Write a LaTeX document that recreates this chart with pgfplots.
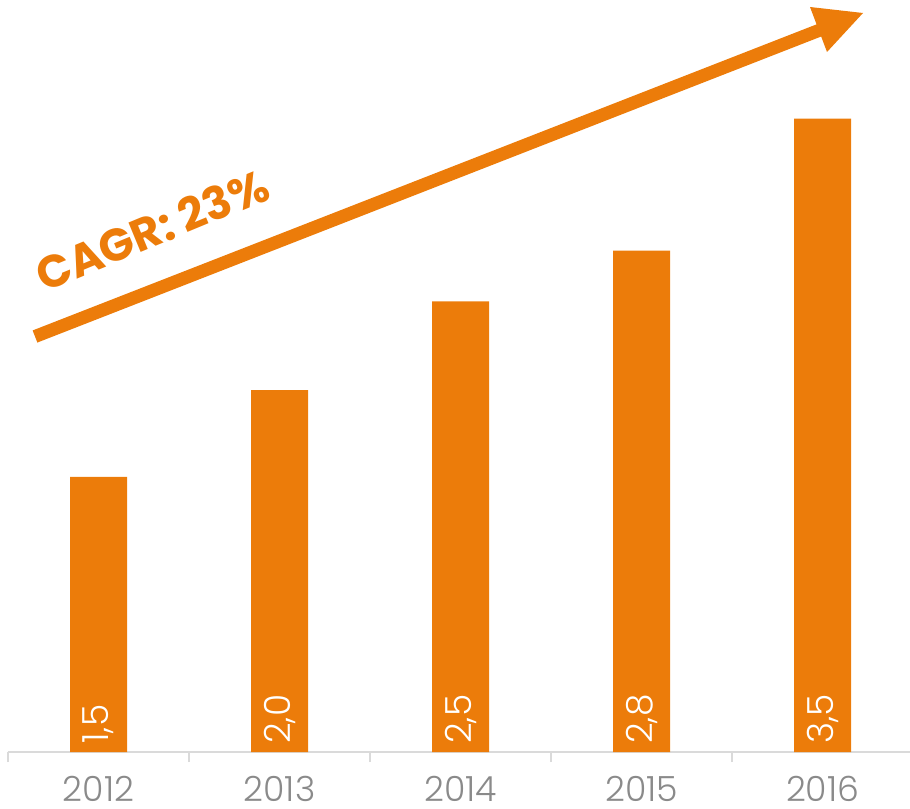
\documentclass[border=0pt]{standalone}
\usepackage{fontspec}
\usepackage{pgfplots}
\pgfplotsset{compat=1.18}
\setmainfont{Poppins}
\newfontfamily\lightfont{Poppins}[UprightFont=* Light]
\definecolor{barorange}{HTML}{EC7C0A}
\definecolor{labgray}{HTML}{8A8A8A}
\definecolor{axgray}{HTML}{DADADA}
\begin{document}
\begin{tikzpicture}
\begin{axis}[
  at={(6pt,42pt)}, anchor=south west,
  width=676.5pt, height=564pt, scale only axis,
  xmin=-0.5, xmax=4.483, ymin=0, ymax=4.155,
  axis y line=none, axis x line*=bottom,
  axis line style={draw=axgray, line width=1.5pt, -},
  xtick={0,1,2,3,4},
  xticklabels={2012,2013,2014,2015,2016},
  major tick length=0pt,
  minor xtick={-0.5,0.5,1.5,2.5,3.5},
  minor tick length=7.5pt,
  tick align=outside,
  minor tick style={draw=axgray, line width=1.5pt},
  xticklabel style={font=\lightfont\fontsize{26}{30}\selectfont, text=labgray, inner sep=0pt, anchor=north, yshift=-18pt},
  /pgf/number format/assume math mode=true,
  clip=false,
]
\addplot[ybar, bar width=42.75pt, bar shift=0pt, fill=barorange, draw=none]
  table[x=x, y=y] {
x y
0 1.52
1 2.00
2 2.49
3 2.77
4 3.50
};
\addplot[draw=none, mark=none, point meta=explicit,
  nodes near coords={\pgfmathprintnumber[fixed,fixed zerofill,precision=1,use comma]{\pgfplotspointmeta}},
  every node near coord/.append style={rotate=90, anchor=west, text=white, inner sep=6pt, font=\lightfont\fontsize{27}{30}\selectfont}]
  table[x=x, y=z, meta=y] {
x z y
0 0 1.52
1 0 2.00
2 0 2.49
3 0 2.77
4 0 3.50
};
\end{axis}
\begin{scope}[x=0.75pt, y=-0.75pt, shift={(0pt,606pt)}]
  \draw[barorange, line width=9.75pt] (35,336.5) -- (820,30);
  \fill[barorange] (810,7) -- (863,13) -- (827,52) -- cycle;
  \node[rotate=22.5, text=barorange, font=\bfseries\fontsize{34}{38}\selectfont] at (152,230) {CAGR: 23\%};
\end{scope}
\pgfresetboundingbox
\path[use as bounding box] (0,0) rectangle (682.5pt,606pt);
\end{tikzpicture}
\end{document}
